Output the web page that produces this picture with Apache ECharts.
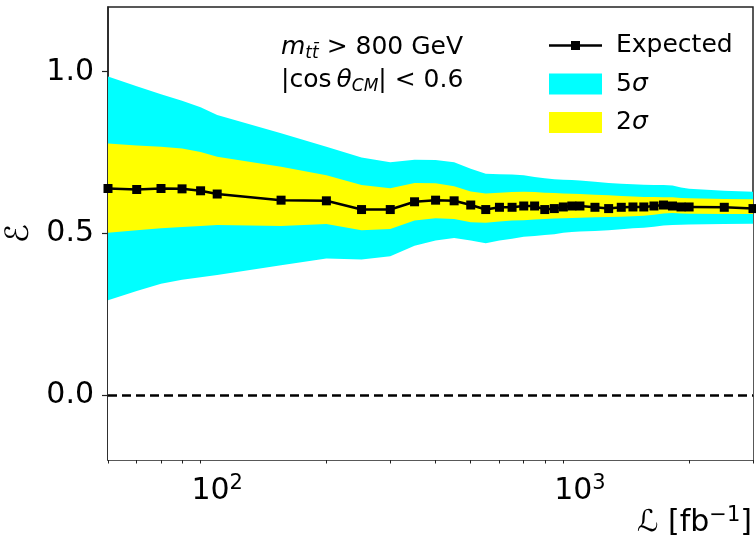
<!DOCTYPE html>
<html>
<head>
<meta charset="utf-8">
<script src="https://cdn.jsdelivr.net/npm/echarts@6/dist/echarts.min.js"></script>
<style>html,body{margin:0;padding:0;background:#fff;}#c{width:756px;height:544px;}</style>
</head>
<body>
<div id="c"></div>
<script>
// Integrated luminosity points [fb^-1]
const lumi = [50,60,70,80,90,100,150,200,250,300,350,400,450,500,550,600,650,700,750,800,850,900,950,1000,1100,1200,1300,1400,1500,1600,1700,1800,1900,2000,2500,3000];
// Expected value
const expected = [0.639,0.636,0.639,0.638,0.632,0.622,0.603,0.601,0.574,0.574,0.598,0.603,0.601,0.588,0.574,0.581,0.581,0.585,0.585,0.574,0.577,0.582,0.585,0.585,0.581,0.577,0.581,0.582,0.582,0.585,0.588,0.585,0.582,0.582,0.581,0.577];
// 5 sigma band
const up5 = [0.985,0.955,0.93,0.91,0.89,0.866,0.81,0.768,0.735,0.72,0.728,0.727,0.72,0.70,0.685,0.683,0.682,0.68,0.675,0.671,0.668,0.666,0.665,0.664,0.66,0.656,0.654,0.652,0.651,0.65,0.65,0.648,0.642,0.638,0.632,0.629];
const lo5 = [0.294,0.322,0.345,0.357,0.365,0.372,0.402,0.423,0.42,0.43,0.462,0.478,0.486,0.478,0.47,0.478,0.484,0.49,0.492,0.495,0.498,0.502,0.505,0.506,0.508,0.51,0.513,0.516,0.518,0.521,0.525,0.526,0.527,0.528,0.529,0.53];
// 2 sigma band
const up2 = [0.778,0.772,0.768,0.763,0.752,0.737,0.706,0.68,0.65,0.64,0.656,0.655,0.646,0.63,0.624,0.626,0.628,0.629,0.628,0.626,0.625,0.624,0.623,0.622,0.62,0.618,0.616,0.614,0.613,0.613,0.612,0.612,0.61,0.609,0.607,0.606];
const lo2 = [0.502,0.51,0.516,0.52,0.523,0.526,0.523,0.529,0.51,0.514,0.54,0.547,0.545,0.535,0.533,0.537,0.54,0.541,0.543,0.545,0.546,0.547,0.548,0.549,0.55,0.551,0.552,0.553,0.555,0.558,0.562,0.563,0.562,0.561,0.56,0.56];
// axes
const xMajorTicks = [100, 1000];
const xMinorTicks = [50,60,70,80,90,200,300,400,500,600,700,800,900,2000,3000];
const yTicks = [0, 0.5, 1.0];
const zeroLineY = 0;

const FONT = 'DejaVu Sans';
const pair = (arr) => arr.map((v, i) => [lumi[i], v]);

// filled curve down to the bottom of the plot; layered to form the bands
const fillSeries = (name, arr, color, z) => ({
  name, type: 'line', data: pair(arr), showSymbol: false, symbol: 'none', color,
  lineStyle: { width: 0, opacity: 0 }, areaStyle: { color, opacity: 1, origin: 'start' },
  silent: true, z
});

const chart = echarts.init(document.getElementById('c'));
const axisColor = '#222';
chart.setOption({
  animation: false,
  textStyle: { fontFamily: FONT },
  grid: { left: 108, right: 3, top: 7, bottom: 84, outerBoundsMode: 'none', containLabel: false,
    show: true, borderColor: axisColor, borderWidth: 1.5, backgroundColor: 'transparent' },
  xAxis: [{
    type: 'log', logBase: 10, min: 50, max: 3000,
    axisLine: { show: true, lineStyle: { color: axisColor, width: 1.5 } },
    axisTick: { show: true, length: 6, customValues: xMajorTicks, lineStyle: { color: axisColor, width: 1.2 } },
    axisLabel: { customValues: xMajorTicks, margin: 13, color: '#000', fontFamily: FONT,
      formatter: v => '{b|10}{s|' + Math.round(Math.log10(v)) + '}',
      rich: { b: { fontSize: 30, lineHeight: 36, fontFamily: FONT, color: '#000' },
              s: { fontSize: 21, lineHeight: 21, verticalAlign: 'top', fontFamily: FONT, color: '#000' } } },
    splitLine: { show: false }
  }, {
    type: 'log', logBase: 10, min: 50, max: 3000, position: 'bottom',
    axisLine: { show: false },
    axisTick: { show: true, length: 3.5, customValues: xMinorTicks, lineStyle: { color: axisColor, width: 1 } },
    axisLabel: { show: false },
    splitLine: { show: false }
  }],
  yAxis: {
    type: 'value', min: -0.2, max: 1.2,
    name: 'ℰ', nameLocation: 'middle', nameGap: 70, nameRotate: 90,
    nameTextStyle: { fontSize: 32, color: '#000', fontFamily: FONT },
    axisLine: { show: true, lineStyle: { color: axisColor, width: 1.5 } },
    axisTick: { show: true, length: 6, customValues: yTicks, lineStyle: { color: axisColor, width: 1.2 } },
    axisLabel: { customValues: yTicks, margin: 14, fontSize: 30, color: '#000', fontFamily: FONT, formatter: v => v.toFixed(1) },
    splitLine: { show: false }
  },
  legend: {
    orient: 'vertical', left: 544, top: 28, itemWidth: 53, itemHeight: 21, itemGap: 13.5,
    textStyle: { fontSize: 25, color: '#000', fontFamily: FONT, padding: [0, 0, 0, 9],
      rich: { n: { fontSize: 25, fontFamily: FONT, color: '#000' },
              i: { fontSize: 25, fontFamily: FONT, fontStyle: 'italic', color: '#000' } } },
    formatter: name => name.indexOf('σ') >= 0 ? '{n|' + name.replace('σ', '') + '}{i|σ}' : name,
    selectedMode: false,
    data: [
      { name: 'Expected', icon: 'path://M0,0 L0.05,0 L0,0.05 Z M53,21 L52.95,21 L53,20.95 Z M0,9.25 L22,9.25 L22,6 L31,6 L31,9.25 L53,9.25 L53,11.75 L31,11.75 L31,15 L22,15 L22,11.75 L0,11.75 Z', itemStyle: { color: '#000' } },
      { name: '5σ', icon: 'rect', itemStyle: { color: '#00ffff' } },
      { name: '2σ', icon: 'rect', itemStyle: { color: '#ffff00' } }
    ]
  },
  series: [
    fillSeries('5σ', up5, '#00ffff', 1),
    fillSeries('2σ', up2, '#ffff00', 1),
    fillSeries('5σ lower', lo2, '#00ffff', 1),
    fillSeries('below', lo5, '#ffffff', 1),
    { name: 'Expected', type: 'line', data: pair(expected), color: '#000', symbol: 'rect', symbolSize: 9,
      lineStyle: { color: '#000', width: 2.5 }, itemStyle: { color: '#000' }, z: 5,
      markLine: { silent: true, symbol: 'none', label: { show: false },
        lineStyle: { color: '#000', width: 2.5, type: [9, 5] }, data: [{ yAxis: zeroLineY }] } }
  ],
  graphic: [
    { type: 'text', left: 281, top: 35, z: 100, style: {
      text: '{i|m}{s|tt̄}{n| > 800 GeV}', fill: '#000',
      rich: { i: { fontSize: 25, fontStyle: 'italic', fontFamily: FONT, lineHeight: 30 },
              n: { fontSize: 25, fontFamily: FONT, lineHeight: 30 },
              s: { fontSize: 17, fontStyle: 'italic', fontFamily: FONT, lineHeight: 17, verticalAlign: 'bottom' } } } },
    { type: 'text', left: 281, top: 68, z: 100, style: {
      text: '{n||cos\u2009}{i|θ}{s|CM}{n|| < 0.6}', fill: '#000',
      rich: { i: { fontSize: 25, fontStyle: 'italic', fontFamily: FONT, lineHeight: 30 },
              n: { fontSize: 25, fontFamily: FONT, lineHeight: 30 },
              s: { fontSize: 17, fontStyle: 'italic', fontFamily: FONT, lineHeight: 17, verticalAlign: 'bottom' } } } },
    { type: 'text', right: 4, top: 505, z: 100, style: {
      text: '{n|ℒ [fb}{s|−1}{n|]}', fill: '#000',
      rich: { n: { fontSize: 30, fontFamily: FONT, lineHeight: 36 },
              s: { fontSize: 21, fontFamily: FONT, lineHeight: 21, verticalAlign: 'top' } } } }
  ]
});
</script>
</body>
</html>
